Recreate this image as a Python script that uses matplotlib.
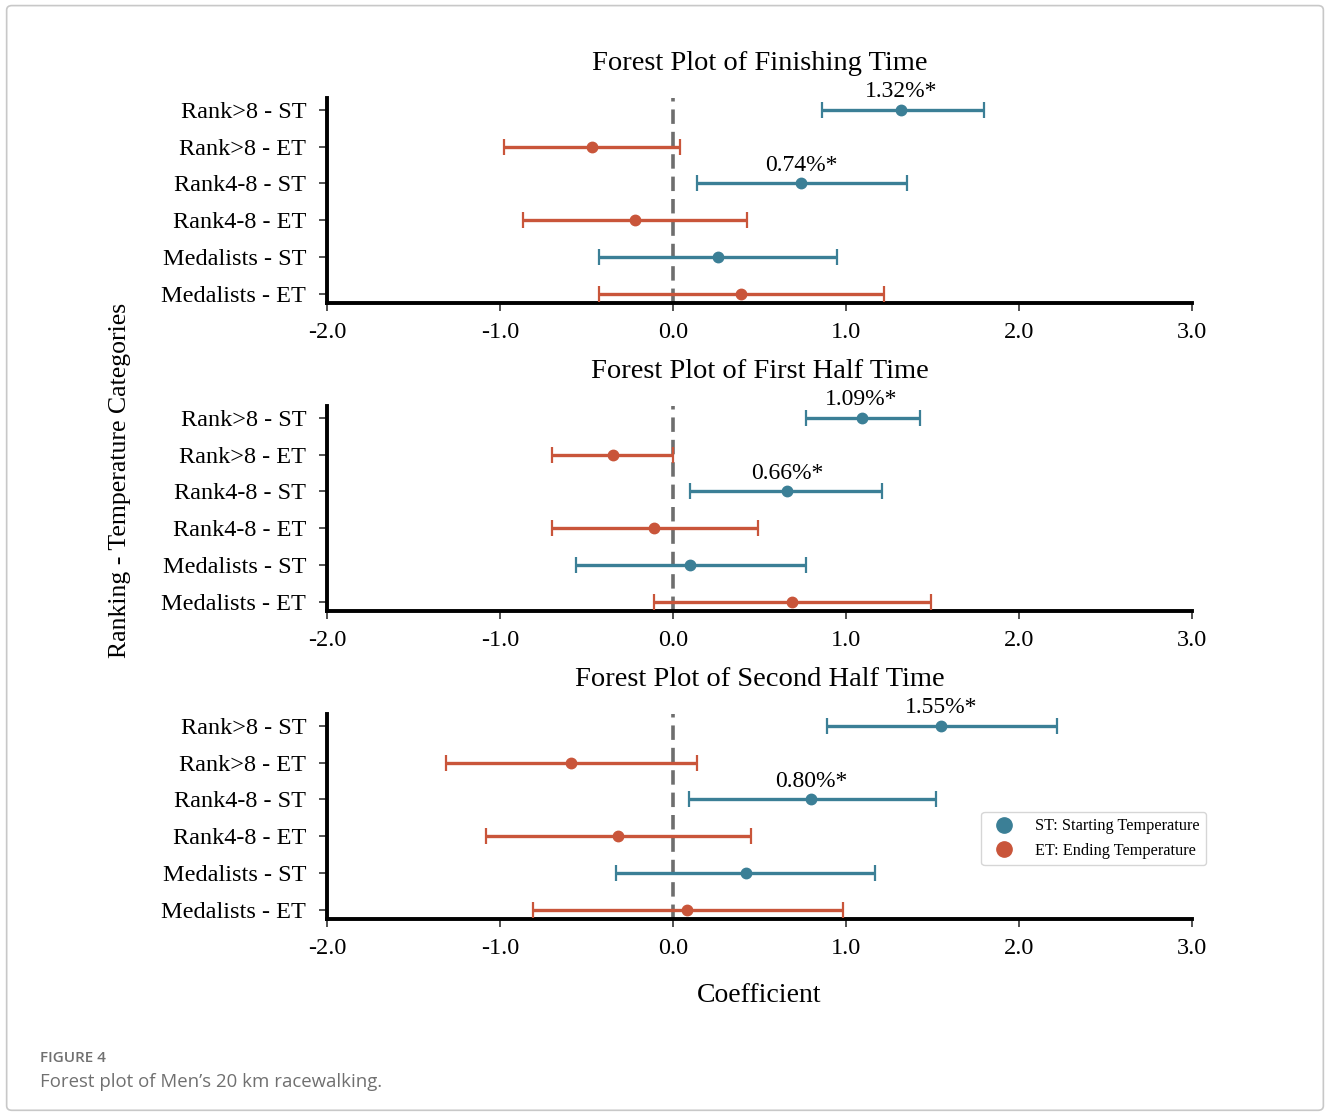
import matplotlib.pyplot as plt
from matplotlib.patches import FancyBboxPatch
from matplotlib.lines import Line2D

plt.rcParams['font.family'] = ['Liberation Serif', 'DejaVu Serif']

# categories top to bottom
categories = ['Rank>8 - ST', 'Rank>8 - ET', 'Rank4-8 - ST',
              'Rank4-8 - ET', 'Medalists - ST', 'Medalists - ET']
groups = ['ST', 'ET', 'ST', 'ET', 'ST', 'ET']

titles = ['Forest Plot of Finishing Time',
          'Forest Plot of First Half Time',
          'Forest Plot of Second Half Time']

# coefficient estimates and CI bounds, same order as categories
finish_coef = [1.32, -0.47, 0.74, -0.22, 0.26, 0.39]
finish_lo = [0.86, -0.98, 0.14, -0.87, -0.43, -0.43]
finish_hi = [1.80, 0.04, 1.35, 0.43, 0.95, 1.22]

first_coef = [1.09, -0.35, 0.66, -0.11, 0.10, 0.69]
first_lo = [0.77, -0.70, 0.10, -0.70, -0.56, -0.11]
first_hi = [1.43, 0.00, 1.21, 0.49, 0.77, 1.49]

second_coef = [1.55, -0.59, 0.80, -0.32, 0.42, 0.08]
second_lo = [0.89, -1.31, 0.09, -1.08, -0.33, -0.81]
second_hi = [2.22, 0.14, 1.52, 0.45, 1.17, 0.98]

# significant labels: (category index, text)
finish_sig = [(0, '1.32%*'), (2, '0.74%*')]
first_sig = [(0, '1.09%*'), (2, '0.66%*')]
second_sig = [(0, '1.55%*'), (2, '0.80%*')]

xticks = [-2.0, -1.0, 0.0, 1.0, 2.0, 3.0]

ST_COLOR = '#3b7f96'
ET_COLOR = '#c9553a'
colors = {'ST': ST_COLOR, 'ET': ET_COLOR}

panels = [
    (finish_coef, finish_lo, finish_hi, finish_sig),
    (first_coef, first_lo, first_hi, first_sig),
    (second_coef, second_lo, second_hi, second_sig),
]

fig = plt.figure(figsize=(13.3, 11.17), dpi=100)

# light frame around the figure, like the journal page
frame = FancyBboxPatch((0.005, 0.006), 0.99, 0.989, boxstyle='round,pad=0,rounding_size=0.004',
                       transform=fig.transFigure, facecolor='none', edgecolor='#c8c8c8', linewidth=1.2)
fig.patches.append(frame)

left, width, height = 0.2459, 0.6504, 0.1835
bottoms = [0.7287, 0.4530, 0.1773]

n = len(categories)
ypos = [n - 1 - i for i in range(n)]

for k, (coef, lo, hi, sig) in enumerate(panels):
    ax = fig.add_axes([left, bottoms[k], width, height])
    ax.axvline(0, color='#5e5e5e', linestyle='--', linewidth=2.6, dashes=(4, 2.2), alpha=0.9, zorder=1)
    for i in range(n):
        c = colors[groups[i]]
        ax.errorbar(coef[i], ypos[i], xerr=[[coef[i] - lo[i]], [hi[i] - coef[i]]],
                    fmt='o', color=c, ecolor=c, elinewidth=2.4, capsize=6, capthick=1.6,
                    markersize=7.5, zorder=3)
    for idx, txt in sig:
        ax.text(coef[idx], ypos[idx] + 0.2, txt, ha='center', va='bottom', fontsize=17)
    ax.set_xlim(-2.0, 3.0)
    ax.set_ylim(-0.25, 5.32)
    ax.set_xticks(xticks)
    ax.set_xticklabels([f'{t:.1f}' for t in xticks])
    ax.set_yticks(ypos)
    ax.set_yticklabels(categories)
    ax.tick_params(axis='both', labelsize=17.5, width=1.2, length=6, color='#333333')
    ax.tick_params(axis='y', pad=9)
    ax.tick_params(axis='x', pad=8)
    ax.spines['top'].set_visible(False)
    ax.spines['right'].set_visible(False)
    ax.spines['left'].set_linewidth(2.8)
    ax.spines['bottom'].set_linewidth(2.8)
    ax.set_title(titles[k], fontsize=20.5, pad=20)

handles = [Line2D([], [], marker='o', linestyle='none', color=ST_COLOR, markersize=11),
           Line2D([], [], marker='o', linestyle='none', color=ET_COLOR, markersize=11)]
fig.legend(handles, ['ST: Starting Temperature', 'ET: Ending Temperature'],
           loc='upper right', bbox_to_anchor=(0.9068, 0.2731), bbox_transform=fig.transFigure,
           fontsize=11.7, frameon=True, edgecolor='#cccccc', borderaxespad=0, handletextpad=0.9)

fig.text(0.09, 0.57, 'Ranking - Temperature Categories', rotation=90, ha='center', va='center',
         fontsize=18.5)
fig.text(0.571, 0.109, 'Coefficient', ha='center', va='center', fontsize=20)

fig.text(0.030, 0.0525, 'FIGURE 4', fontsize=11, color='#707070', family=['Open Sans', 'DejaVu Sans'],
         weight='semibold', va='center')
fig.text(0.030, 0.031, 'Forest plot of Men\u2019s 20 km racewalking.', fontsize=13.4, color='#707070',
         family=['Open Sans', 'DejaVu Sans'], va='center')

fig.savefig('out.png', dpi=100)
